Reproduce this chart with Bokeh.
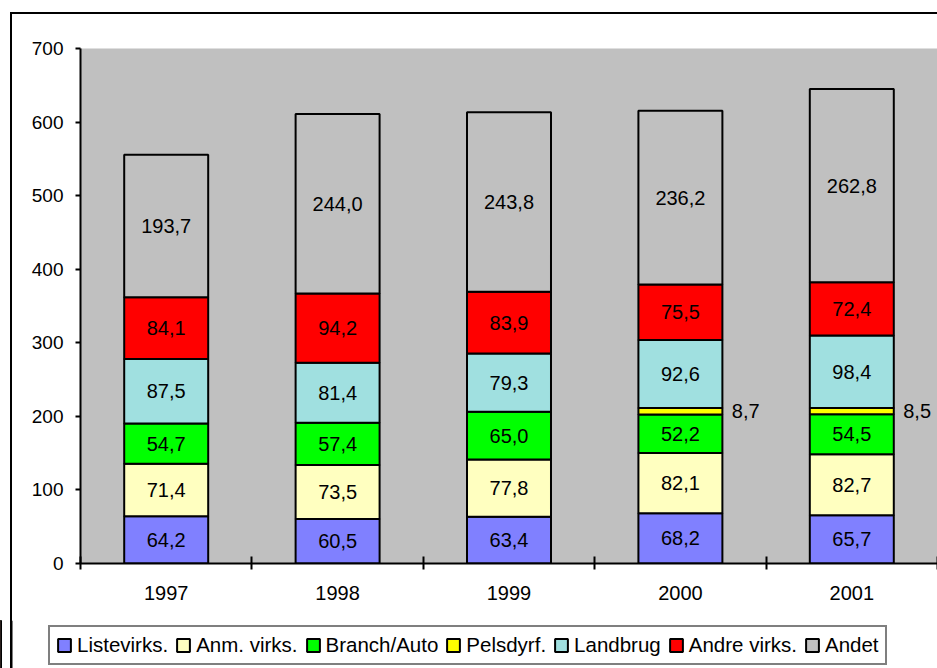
from jinja2 import Template
from bokeh.plotting import figure
from bokeh.layouts import column
from bokeh.models import ColumnDataSource, FixedTicker, Legend, LegendItem, Range1d, Span
from bokeh.embed import file_html
from bokeh.resources import INLINE
from bokeh.core.properties import value

years = ["1997", "1998", "1999", "2000", "2001"]
series = ["Listevirks.", "Anm. virks.", "Branch/Auto", "Pelsdyrf.", "Landbrug", "Andre virks.", "Andet"]
listevirks = [64.2, 60.5, 63.4, 68.2, 65.7]
anm_virks = [71.4, 73.5, 77.8, 82.1, 82.7]
branch_auto = [54.7, 57.4, 65.0, 52.2, 54.5]
pelsdyrf = [0.0, 0.0, 0.0, 8.7, 8.5]
landbrug = [87.5, 81.4, 79.3, 92.6, 98.4]
andre_virks = [84.1, 94.2, 83.9, 75.5, 72.4]
andet = [193.7, 244.0, 243.8, 236.2, 262.8]
colors = ["#8080FF", "#FFFFC0", "#00FF00", "#FFFF00", "#A0E0E0", "#FF0000", "#C0C0C0"]
y_ticks = [0, 100, 200, 300, 400, 500, 600, 700]

values = [listevirks, anm_virks, branch_auto, pelsdyrf, landbrug, andre_virks, andet]
FONT = "Liberation Sans"
W = 937

p = figure(width=W, height=620, output_backend="svg", toolbar_location=None,
           x_range=Range1d(0, len(years)), y_range=Range1d(0, 700),
           min_border_left=80, min_border_top=48, min_border_right=0, min_border_bottom=57)
p.frame_align = False
p.background_fill_color = "#C0C0C0"
p.border_fill_alpha = 0
p.outline_line_color = None
p.xgrid.grid_line_color = None
p.ygrid.grid_line_color = None

xs = [i + 0.5 for i in range(len(years))]
bottoms = [0.0] * len(years)
lx, ly, lt, side_x, side_y, side_t = [], [], [], [], [], []
for name, vals, col in zip(series, values, colors):
    tops = [b + v for b, v in zip(bottoms, vals)]
    keep = [i for i, v in enumerate(vals) if v > 0]
    src = ColumnDataSource(dict(x=[xs[i] for i in keep], top=[tops[i] for i in keep],
                                bottom=[bottoms[i] for i in keep]))
    p.vbar(x="x", top="top", bottom="bottom", width=0.49, source=src,
           fill_color=col, line_color="black", line_width=2)
    for i in keep:
        txt = f"{vals[i]:.1f}".replace(".", ",")
        mid = (bottoms[i] + tops[i]) / 2
        if name == "Pelsdyrf.":
            side_x.append(xs[i] + 0.30); side_y.append(mid); side_t.append(txt)
        else:
            lx.append(xs[i]); ly.append(mid); lt.append(txt)
    bottoms = tops

p.text(x=lx, y=ly, text=lt, text_align="center", text_baseline="middle",
       text_font=value(FONT), text_font_size="20px", text_color="black")
p.text(x=side_x, y=side_y, text=side_t, text_align="left", text_baseline="middle",
       text_font=value(FONT), text_font_size="20px", text_color="black")

# x axis: labels at centers, ticks between categories
xa = p.xaxis[0]
xa.ticker = FixedTicker(ticks=xs, minor_ticks=list(range(len(years) + 1)))
xa.major_label_overrides = {x: y for x, y in zip(xs, years)}
xa.major_tick_in = 0
xa.major_tick_out = 0
xa.minor_tick_in = 7
xa.minor_tick_out = 6
xa.minor_tick_line_color = "black"
xa.minor_tick_line_width = 2
xa.axis_line_color = "black"
xa.axis_line_width = 2
xa.major_label_standoff = 16
xa.major_label_text_font = FONT
xa.major_label_text_font_size = "20px"
xa.major_label_text_color = "black"

ya = p.yaxis[0]
ya.ticker = FixedTicker(ticks=y_ticks)
ya.major_tick_in = 0
ya.major_tick_out = 5
ya.minor_tick_line_color = None
ya.major_tick_line_color = "black"
ya.major_tick_line_width = 2
ya.axis_line_color = "black"
ya.axis_line_width = 2
ya.major_label_standoff = 12
ya.major_label_text_font = FONT
ya.major_label_text_font_size = "19px"
ya.major_label_text_color = "black"

# legend strip below the chart
q = figure(width=W, height=48, output_backend="svg", toolbar_location=None,
           x_range=Range1d(0, W), y_range=Range1d(0, 1),
           x_axis_location=None, y_axis_location=None,
           min_border=0, min_border_left=0, min_border_right=0, min_border_top=0, min_border_bottom=0)
q.frame_align = False
q.background_fill_alpha = 0
q.border_fill_alpha = 0
q.outline_line_color = None
q.xgrid.grid_line_color = None
q.ygrid.grid_line_color = None
# continuation of the outer chart border on the left
q.add_layout(Span(location=11, dimension="height", line_color="black", line_width=2))
items = []
for name, col in zip(series, colors):
    # legend swatch renderer (its single bar lies outside the visible range)
    r = q.vbar(x=[-100], top=[1], bottom=[0], width=5, fill_color=col,
               line_color="black", line_width=2)
    items.append(LegendItem(label=name, renderers=[r]))
legend = Legend(items=items, orientation="horizontal", location=(48, 3),
                glyph_width=16, glyph_height=16, label_standoff=5, spacing=7,
                padding=6, margin=0,
                label_text_font=FONT, label_text_font_size="20.5px", label_text_color="black",
                border_line_color="black", border_line_width=2,
                background_fill_color="white", background_fill_alpha=1.0)
q.add_layout(legend, "center")

layout = column(p, q, spacing=0)

page = Template("""{% extends base %}
{% block postamble %}
<style>
  body {
    background: linear-gradient(#000, #000) 10px 12px / 2px 700px no-repeat,
                linear-gradient(#000, #000) 10px 12px / 1000px 2px no-repeat,
                #ffffff;
  }
</style>
{% endblock %}""")
open("out.html", "w").write(file_html(layout, INLINE, template=page))
